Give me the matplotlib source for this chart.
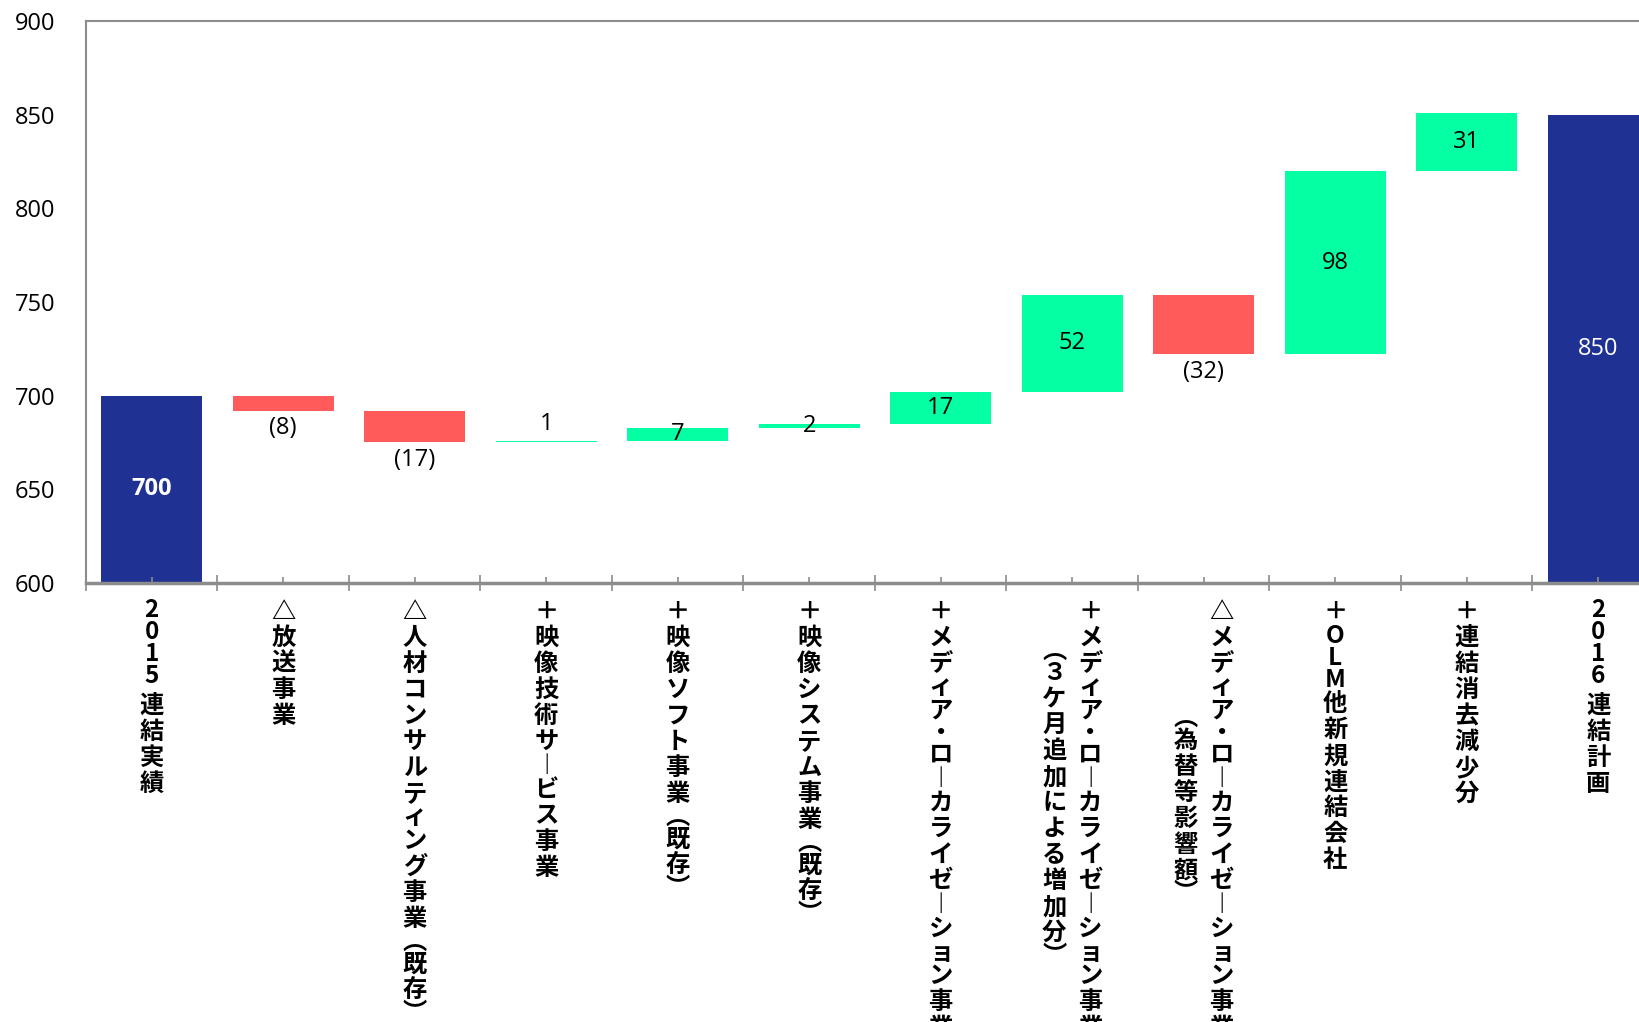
import matplotlib
matplotlib.use('Agg')
import matplotlib.pyplot as plt
import numpy as np

plt.rcParams['font.family'] = ['Open Sans', 'DejaVu Sans']

# category labels; "\n" separates the right column from the left one
labels = [
    '2015 連結実績',
    '△放送事業',
    '△人材コンサルティング事業（既存）',
    '＋映像技術サービス事業',
    '＋映像ソフト事業（既存）',
    '＋映像システム事業（既存）',
    '＋メディア・ローカライゼーション事業',
    '＋メディア・ローカライゼーション事業\n（３ケ月追加による増加分）',
    '△メディア・ローカライゼーション事業\n（為替等影響額）',
    '＋OLM他新規連結会社',
    '＋連結消去減少分',
    '2016 連結計画',
]
start_total = 700
changes = [-8, -17, 1, 7, 2, 17, 52, -32, 98, 31]
end_total = 850

yticks = [600, 650, 700, 750, 800, 850, 900]

BLUE = '#1f3192'
RED = '#ff5b5b'
GREEN = '#05ffa3'
GRAY = '#8c8c8c'

fig = plt.figure(figsize=(16.4, 10.22), dpi=100)
ax = fig.add_axes([86 / 1640, 1 - 583 / 1022, 1578 / 1640, (583 - 21) / 1022])

n = len(labels)
x = np.arange(n)
width = 0.77

# waterfall: floating bars for changes, full bars for totals
levels = start_total + np.cumsum(changes)
prev = np.concatenate([[start_total], levels[:-1]])
ch_bottom = np.minimum(prev, levels)
ch_height = np.abs(changes)
ch_colors = [GREEN if c > 0 else RED for c in changes]

ax.bar([0, n - 1], [start_total, end_total], width=width, color=BLUE)
ax.bar(x[1:-1], ch_height, bottom=ch_bottom, width=width, color=ch_colors)

ax.set_xlim(-0.5, n - 0.5)
ax.set_ylim(yticks[0], yticks[-1])

# value labels
ax.text(0, (yticks[0] + start_total) / 2, f'{start_total}', color='white',
        fontsize=17, fontweight='bold', ha='center', va='center')
ax.text(n - 1, (yticks[0] + end_total) / 2, f'{end_total}', color='white',
        fontsize=17, ha='center', va='center')
for i, c in enumerate(changes):
    xi = i + 1
    if c < 0:
        ax.annotate(f'({-c})', xy=(xi, ch_bottom[i]), xytext=(0, -4),
                    textcoords='offset points', ha='center', va='top', fontsize=17)
    elif c < 2:
        ax.annotate(f'{c}', xy=(xi, ch_bottom[i] + c), xytext=(0, 3),
                    textcoords='offset points', ha='center', va='bottom', fontsize=17)
    else:
        ax.text(xi, ch_bottom[i] + c / 2, f'{c}', ha='center', va='center', fontsize=17)

# axes styling
for side in ['left', 'top', 'right']:
    ax.spines[side].set_color(GRAY)
    ax.spines[side].set_linewidth(1.5)
ax.spines['bottom'].set_color(GRAY)
ax.spines['bottom'].set_linewidth(2.5)

ax.set_yticks(yticks)
ax.tick_params(axis='y', length=0, pad=22, labelsize=17)
ax.set_xticks(np.arange(-0.5, n, 1.0))
ax.set_xticks(x, minor=True)
ax.tick_params(axis='x', which='major', direction='inout', length=11,
               width=1.2, color=GRAY, labelbottom=False)
ax.tick_params(axis='x', which='minor', direction='in', length=4.5,
               width=1.2, color=GRAY, labelbottom=False)

# vertical (tategaki) category labels, one glyph per cell
vert_map = {'ー': '\ufe31', '（': '\ufe35', '）': '\ufe36'}
pitch = 26 * 0.72       # cell height in points
top = 16 * 0.72         # gap below the axis line
col_dx = 18 * 0.72      # column offset for two-column labels
second_skip = {7: 1.6, 8: 4.2}
cjk = ['Noto Sans CJK JP', 'DejaVu Sans']


def advance(ch):
    if ch == ' ':
        return 0.2
    if ch.isascii():
        return 0.85
    if ch in '（）':
        return 0.75
    if ch == '・':
        return 0.7
    if ch in 'ィョァッ':
        return 0.8
    if ch == 'ー':
        return 0.85
    return 1.0


def draw_column(xi, dx, text, skip=0.0):
    cursor = top + skip * pitch
    for ch in text:
        adv = advance(ch)
        if ch != ' ':
            ax.annotate(vert_map.get(ch, ch), xy=(xi, 0),
                        xycoords=('data', 'axes fraction'),
                        xytext=(dx, -(cursor + adv * pitch / 2)),
                        textcoords='offset points', ha='center', va='center',
                        fontsize=17.5, fontweight='bold', family=cjk,
                        annotation_clip=False)
        cursor += adv * pitch


for i, lab in enumerate(labels):
    cols = lab.split('\n')
    if len(cols) == 1:
        draw_column(i, 0, cols[0])
    else:
        draw_column(i, col_dx, cols[0])
        draw_column(i, -col_dx, cols[1], second_skip.get(i, 0))

plt.savefig('out.png', dpi=100)
